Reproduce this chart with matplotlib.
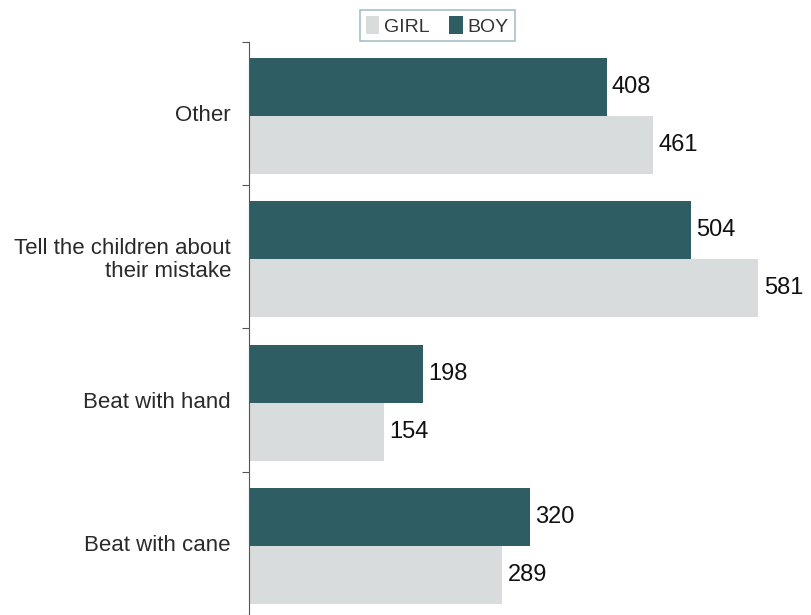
import numpy as np
from matplotlib import pyplot as plt

categories = ['Beat with cane', 'Beat with hand', 'Tell the children about\ntheir mistake', 'Other']
boy = [320, 198, 504, 408]
girl = [289, 154, 581, 461]

plt.rcParams['font.family'] = ['Liberation Sans', 'DejaVu Sans']

fig = plt.figure(figsize=(8.11, 6.15), dpi=100)
ax = fig.add_axes([0.307, 0.0, 0.693, 0.932])

y = np.arange(len(categories))
h = 0.405
b1 = ax.barh(y + 0.185, boy, height=h, color='#2f5d64', label='BOY')
b2 = ax.barh(y - 0.22, girl, height=h, color='#d9dcdd', label='GIRL')

for bars, vals in ((b1, boy), (b2, girl)):
    for bar, v in zip(bars, vals):
        ax.text(bar.get_width() + 6, bar.get_y() + bar.get_height() / 2, str(v),
                va='center', ha='left', fontsize=17, color='#111111')

ax.set_xlim(0, 641)
ax.set_ylim(-0.5, 3.5)
ax.set_xticks([])
ax.set_yticks(np.arange(-0.5, 4, 1))
ax.set_yticklabels([])
ax.tick_params(axis='y', which='major', length=5, color='#555555', direction='out')
ax.set_yticks(y, minor=True)
ax.set_yticklabels(categories, minor=True, fontsize=16, color='#2a2a2a', linespacing=1.1)
ax.tick_params(axis='y', which='minor', length=0, pad=13)
for s in ('top', 'right', 'bottom'):
    ax.spines[s].set_visible(False)
ax.spines['left'].set_color('#555555')

leg = fig.legend(handles=[b2, b1], labels=['GIRL', 'BOY'], loc='center', ncol=2,
                 bbox_to_anchor=(0.539, 0.958), fontsize=14, frameon=True, fancybox=False,
                 handlelength=0.7, handleheight=1.0, handletextpad=0.25, columnspacing=1.0,
                 borderpad=0.3, labelcolor='#333333')
leg.get_frame().set_edgecolor('#8fb0bb')
leg.get_frame().set_linewidth(1.2)

fig.savefig('out.png', dpi=100)
